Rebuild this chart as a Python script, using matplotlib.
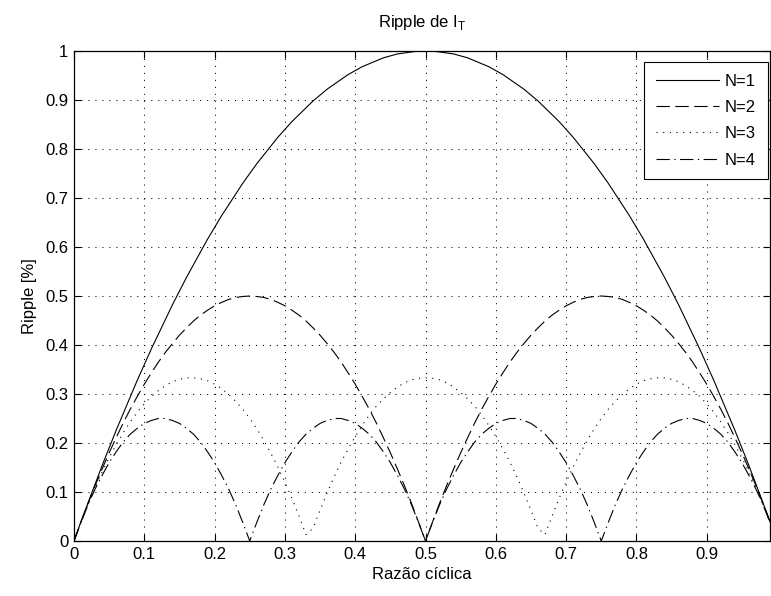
import matplotlib
matplotlib.use("Agg")
import matplotlib.pyplot as plt
import numpy as np

plt.rcParams['font.family'] = ['Liberation Sans', 'DejaVu Sans']
plt.rcParams['font.size'] = 12

duty = [round(i * 0.01, 2) for i in range(100)]

ripple_n1 = [
    0.000, 0.040, 0.078, 0.116, 0.154, 0.190, 0.226, 0.260, 0.294, 0.328,
    0.360, 0.392, 0.422, 0.452, 0.482, 0.510, 0.538, 0.564, 0.590, 0.616,
    0.640, 0.664, 0.686, 0.708, 0.730, 0.750, 0.770, 0.788, 0.806, 0.824,
    0.840, 0.856, 0.870, 0.884, 0.898, 0.910, 0.922, 0.932, 0.942, 0.952,
    0.960, 0.968, 0.974, 0.980, 0.986, 0.990, 0.994, 0.996, 0.998, 1.000,
    1.000, 1.000, 0.998, 0.996, 0.994, 0.990, 0.986, 0.980, 0.974, 0.968,
    0.960, 0.952, 0.942, 0.932, 0.922, 0.910, 0.898, 0.884, 0.870, 0.856,
    0.840, 0.824, 0.806, 0.788, 0.770, 0.750, 0.730, 0.708, 0.686, 0.664,
    0.640, 0.616, 0.590, 0.564, 0.538, 0.510, 0.482, 0.452, 0.422, 0.392,
    0.360, 0.328, 0.294, 0.260, 0.226, 0.190, 0.154, 0.116, 0.078, 0.040,
]

ripple_n2 = [
    0.000, 0.039, 0.077, 0.113, 0.147, 0.180, 0.211, 0.241, 0.269, 0.295,
    0.320, 0.343, 0.365, 0.385, 0.403, 0.420, 0.435, 0.449, 0.461, 0.471,
    0.480, 0.487, 0.493, 0.497, 0.499, 0.500, 0.499, 0.497, 0.493, 0.487,
    0.480, 0.471, 0.461, 0.449, 0.435, 0.420, 0.403, 0.385, 0.365, 0.343,
    0.320, 0.295, 0.269, 0.241, 0.211, 0.180, 0.147, 0.113, 0.077, 0.039,
    0.000, 0.039, 0.077, 0.113, 0.147, 0.180, 0.211, 0.241, 0.269, 0.295,
    0.320, 0.343, 0.365, 0.385, 0.403, 0.420, 0.435, 0.449, 0.461, 0.471,
    0.480, 0.487, 0.493, 0.497, 0.499, 0.500, 0.499, 0.497, 0.493, 0.487,
    0.480, 0.471, 0.461, 0.449, 0.435, 0.420, 0.403, 0.385, 0.365, 0.343,
    0.320, 0.295, 0.269, 0.241, 0.211, 0.180, 0.147, 0.113, 0.077, 0.039,
]

ripple_n3 = [
    0.000, 0.039, 0.075, 0.109, 0.141, 0.170, 0.197, 0.221, 0.243, 0.263,
    0.280, 0.295, 0.307, 0.317, 0.325, 0.330, 0.333, 0.333, 0.331, 0.327,
    0.320, 0.311, 0.299, 0.285, 0.269, 0.250, 0.229, 0.205, 0.179, 0.151,
    0.120, 0.087, 0.051, 0.013, 0.026, 0.063, 0.098, 0.131, 0.161, 0.188,
    0.213, 0.236, 0.257, 0.275, 0.290, 0.303, 0.314, 0.323, 0.329, 0.332,
    0.333, 0.332, 0.329, 0.323, 0.314, 0.303, 0.290, 0.275, 0.257, 0.236,
    0.213, 0.188, 0.161, 0.131, 0.098, 0.063, 0.026, 0.013, 0.051, 0.087,
    0.120, 0.151, 0.179, 0.205, 0.229, 0.250, 0.269, 0.285, 0.299, 0.311,
    0.320, 0.327, 0.331, 0.333, 0.333, 0.330, 0.325, 0.317, 0.307, 0.295,
    0.280, 0.263, 0.243, 0.221, 0.197, 0.170, 0.141, 0.109, 0.075, 0.039,
]

ripple_n4 = [
    0.000, 0.038, 0.074, 0.106, 0.134, 0.160, 0.182, 0.202, 0.218, 0.230,
    0.240, 0.246, 0.250, 0.250, 0.246, 0.240, 0.230, 0.218, 0.202, 0.182,
    0.160, 0.134, 0.106, 0.074, 0.038, 0.000, 0.038, 0.074, 0.106, 0.134,
    0.160, 0.182, 0.202, 0.218, 0.230, 0.240, 0.246, 0.250, 0.250, 0.246,
    0.240, 0.230, 0.218, 0.202, 0.182, 0.160, 0.134, 0.106, 0.074, 0.038,
    0.000, 0.038, 0.074, 0.106, 0.134, 0.160, 0.182, 0.202, 0.218, 0.230,
    0.240, 0.246, 0.250, 0.250, 0.246, 0.240, 0.230, 0.218, 0.202, 0.182,
    0.160, 0.134, 0.106, 0.074, 0.038, 0.000, 0.038, 0.074, 0.106, 0.134,
    0.160, 0.182, 0.202, 0.218, 0.230, 0.240, 0.246, 0.250, 0.250, 0.246,
    0.240, 0.230, 0.218, 0.202, 0.182, 0.160, 0.134, 0.106, 0.074, 0.038,
]

labels = ['N=1', 'N=2', 'N=3', 'N=4']
xticks = [0, 0.1, 0.2, 0.3, 0.4, 0.5, 0.6, 0.7, 0.8, 0.9]
xticklabels = ['0', '0.1', '0.2', '0.3', '0.4', '0.5', '0.6', '0.7', '0.8', '0.9']
yticks = [0, 0.1, 0.2, 0.3, 0.4, 0.5, 0.6, 0.7, 0.8, 0.9, 1.0]
yticklabels = ['0', '0.1', '0.2', '0.3', '0.4', '0.5', '0.6', '0.7', '0.8', '0.9', '1']

fig = plt.figure(figsize=(7.71, 5.96), dpi=100)
ax = fig.add_axes([74 / 771, 55 / 596, 696 / 771, 490 / 596])

styles = ['-', (0, (12, 5)), (0, (1, 5)), (0, (12, 4, 1.2, 4))]
series = [ripple_n1, ripple_n2, ripple_n3, ripple_n4]
for ys, ls, lab in zip(series, styles, labels):
    ax.plot(duty, ys, color='black', linestyle=ls, linewidth=0.8, label=lab)

ax.set_xlim(0, 0.99)
ax.set_ylim(0, 1)
ax.set_xticks(xticks)
ax.set_xticklabels(xticklabels)
ax.set_yticks(yticks)
ax.set_yticklabels(yticklabels)
ax.tick_params(direction='in', length=5, width=0.8, top=True, right=True,
               labelsize=12, pad=4, colors='black')
ax.grid(True, color='black', linestyle=(0, (1, 5.7)), linewidth=0.75)
for s in ax.spines.values():
    s.set_linewidth(0.9)

ax.set_title(r'Ripple de I$_\mathregular{T}$', fontsize=12, pad=17)
ax.set_xlabel('Razão cíclica', fontsize=12, labelpad=4)
ax.set_ylabel('Ripple [%]', fontsize=12, labelpad=6)

leg = ax.legend(loc='upper right', bbox_to_anchor=(0.997, 0.9776), borderaxespad=0,
                fancybox=False, framealpha=1, edgecolor='black', fontsize=12,
                handlelength=3.8, handletextpad=0.35, labelspacing=0.68,
                borderpad=0.7)
leg.get_frame().set_linewidth(0.8)

fig.savefig('out.png', dpi=100)
